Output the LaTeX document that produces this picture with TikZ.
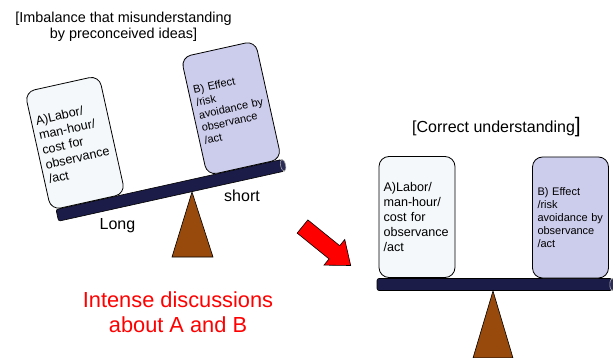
\documentclass[tikz,border=0pt]{standalone}
\usepackage{fontspec}
\setmainfont{Liberation Sans}
\definecolor{beamnavy}{RGB}{28,28,72}
\definecolor{beamcap}{RGB}{44,44,88}
\definecolor{fulcrumbrown}{RGB}{152,74,12}
\definecolor{costfill}{RGB}{244,248,250}
\definecolor{effectfill}{RGB}{204,204,236}
\begin{document}
\begin{tikzpicture}[x=1pt,y=-1pt,
  costbox/.style={draw=black, line width=0.8pt, fill=costfill, rounded corners=10pt,
    minimum width=76pt, minimum height=121pt, text width=67pt, inner sep=4.5pt,
    align=left, font=\fontsize{12.6}{15}\selectfont},
  effectbox/.style={costbox, fill=effectfill, text width=66pt, inner sep=5pt,
    font=\fontsize{11}{13}\selectfont},
  beam/.style={draw=black, line width=0.6pt, fill=beamnavy, rounded corners=2pt,
    minimum height=12pt, inner sep=0pt},
  beamend/.style={draw=gray!70, line width=0.6pt, fill=beamcap},
  fulcrum/.style={draw=black, line width=0.6pt, fill=fulcrumbrown},
  lbl/.style={inner sep=0pt, font=\fontsize{16}{19}\selectfont},
  bigarrow/.style={draw=black, line width=0.6pt, fill=red},
]
\useasboundingbox (0,0) rectangle (613,358);

% headings
\node[inner sep=0pt, anchor=north, align=center, font=\fontsize{14.4}{16.5}\selectfont]
  (titleL) at (123.5,11.5) {[Imbalance that misunderstanding\\by preconceived ideas]};
\node[lbl, anchor=base west] (titleR) at (412,132.3)
  {[Correct understanding{\fontsize{21}{21}\selectfont]}};

% tilted scale
\draw[fulcrum] (192,192) -- (213,257) -- (172,257) -- cycle;
\begin{scope}[shift={(192,185.5)}, rotate=12.5, transform shape]
  \node[beam, minimum width=231pt] (beamL) at (-22.5,0) {};
  \draw[beamend] (beamL.east) ellipse [x radius=2.5, y radius=6];
  \node[costbox] (costL) at (-105,-67)
    {A)Labor/\\man-hour/\\cost for\\observance\\/act};
  \node[effectbox] (effectL) at (55,-67)
    {B) Effect\\/risk\\avoidance by\\observance\\/act};
\end{scope}
\node[lbl, anchor=base] (long) at (117.5,229.5) {Long};
\node[lbl, anchor=base] (short) at (242,201.7) {short};

% arrow between the two states
\begin{scope}[shift={(302.5,226.5)}, rotate=-39]
  \draw[bigarrow] (0,-8.5) -- (41,-8.5) -- (41,-16.5) -- (62,0)
    -- (41,16.5) -- (41,8.5) -- (0,8.5) -- cycle;
\end{scope}

\node[inner sep=0pt, anchor=north, align=center, text=red,
  font=\fontsize{21.8}{25}\selectfont] (discuss) at (178,292)
  {Intense discussions\\about A and B};

% balanced scale
\draw[fulcrum] (493,291) -- (513,358) -- (473,358) -- cycle;
\node[beam, minimum width=235pt] (beamR) at (494.5,284.5) {};
\draw[beamend] (beamR.east) ellipse [x radius=2.5, y radius=6];
\node[costbox] (costR) at (417,217)
  {A)Labor/\\man-hour/\\cost for\\observance\\/act};
\node[effectbox] (effectR) at (570.5,217.5)
  {B) Effect\\/risk\\avoidance by\\observance\\/act};
\end{tikzpicture}
\end{document}
